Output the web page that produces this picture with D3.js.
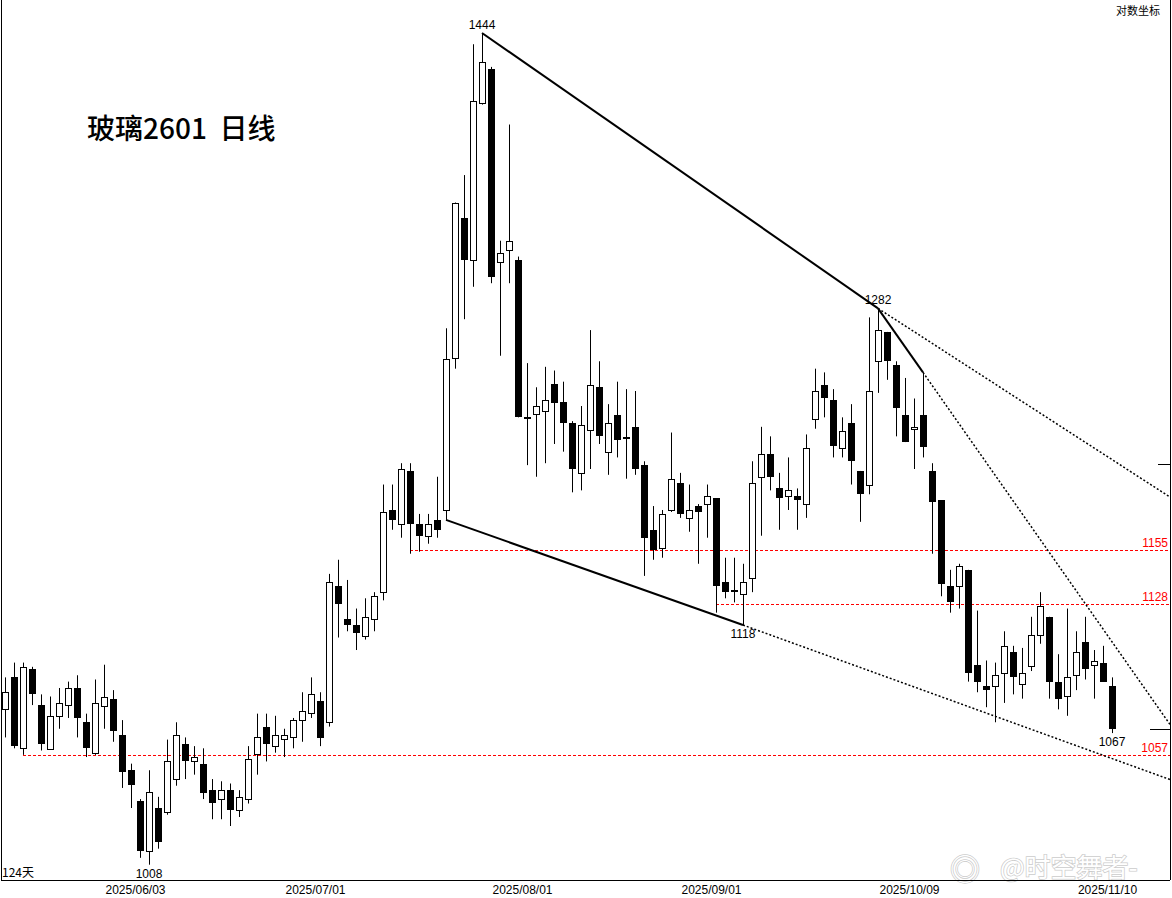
<!DOCTYPE html>
<html>
<head>
<meta charset="UTF-8">
<title>玻璃2601 日线</title>
<style>
  body { margin: 0; background: #fff; }
  svg { display: block; }
  text { font-family: "Liberation Sans", "DejaVu Sans", sans-serif; }
</style>
</head>
<body>
<script src="https://d3js.org/d3.v7.min.js"></script>
<script>
// 日K数据: [开, 高, 低, 收]
var candles = [
  [1078,1093,1065,1086],[1093,1100,1060,1061],[1060,1100,1057,1098],[1097,1098,1080,1085],
  [1080,1085,1059,1062],[1060,1084,1060,1075],[1075,1088,1069,1081],[1080,1091,1074,1088],
  [1088,1094,1065,1074],[1072,1076,1056,1060],[1058,1092,1057,1081],[1080,1099,1069,1084],
  [1083,1087,1063,1068],[1066,1073,1042,1049],[1050,1053,1033,1043],[1036,1037,1011,1014],
  [1014,1050,1008,1040],[1033,1038,1015,1018],[1031,1064,1030,1054],[1046,1072,1043,1066],
  [1062,1065,1046,1054],[1054,1061,1048,1056],[1053,1060,1037,1040],[1041,1046,1028,1035],
  [1037,1045,1028,1041],[1041,1044,1025,1032],[1032,1041,1029,1038],[1037,1061,1035,1055],
  [1057,1076,1048,1065],[1070,1076,1054,1062],[1061,1075,1058,1066],[1064,1069,1056,1066],
  [1065,1074,1060,1073],[1073,1086,1063,1077],[1076,1093,1074,1085],[1082,1086,1061,1065],
  [1072,1143,1070,1139],[1137,1150,1112,1128],[1121,1140,1115,1118],[1118,1126,1106,1114],
  [1113,1131,1111,1122],[1121,1134,1115,1132],[1134,1188,1130,1174],[1175,1188,1165,1170],
  [1168,1199,1161,1196],[1195,1199,1153,1168],[1168,1173,1154,1162],[1162,1173,1158,1168],
  [1170,1192,1161,1165],[1175,1271,1170,1254],[1255,1342,1249,1342],[1333,1358,1276,1309],
  [1309,1437,1294,1402],[1401,1444,1400,1426],[1422,1423,1296,1300],[1308,1320,1256,1313],
  [1315,1388,1296,1320],[1309,1311,1223,1223],[1223,1252,1198,1223],[1225,1239,1192,1229],
  [1226,1250,1199,1232],[1241,1248,1209,1231],[1231,1242,1205,1220],[1220,1221,1184,1196],
  [1194,1229,1185,1219],[1216,1270,1196,1240],[1239,1253,1209,1213],[1205,1230,1193,1220],
  [1224,1242,1202,1211],[1212.5,1238,1191,1212],[1218,1237,1193,1196],[1198,1200,1142,1161],
  [1165,1177,1150,1155],[1156,1175,1151,1173],[1175,1215,1174,1191],[1189,1194,1171,1173],
  [1171,1188,1164,1175],[1177,1178,1148,1174],[1178,1188,1161,1182],[1181,1181,1124,1137],
  [1139,1151,1131,1134],[1135,1151,1129,1135],[1133,1148,1118,1139],[1141,1200,1134,1189],
  [1192,1218,1162,1204],[1204,1213,1185,1192],[1186,1194,1165,1181],[1182,1202,1175,1185],
  [1182,1186,1165,1180],[1178,1214,1171,1207],[1222,1249,1217,1237],[1240,1247,1223,1233],
  [1232,1238,1202,1208],[1207,1223,1202,1216],[1220,1230,1188,1200],[1195,1195,1169,1183],
  [1188,1277,1183,1237],[1253,1282,1236,1270],[1269,1269,1243,1253],[1251,1253,1213,1228],
  [1224,1244,1210,1210],[1217,1233,1196,1218],[1224,1247,1202,1207],[1195,1199,1153,1179],
  [1180,1180,1132,1138],[1137,1145,1124,1129],[1137,1148,1126,1147],[1145,1145,1091,1095],
  [1099,1125,1086,1091],[1089,1101,1079,1087],[1089,1100,1072,1094],[1095,1115,1081,1108],
  [1105,1108,1085,1093],[1090,1107,1083,1095],[1098,1122,1096,1113],[1113,1134,1109,1127],
  [1122,1122,1083,1091],[1091,1104,1078,1083],[1084,1126,1075,1093],[1094,1115,1087,1105],
  [1110,1122,1092,1097],[1099,1106,1083,1101],[1100,1108,1091,1091],[1089,1093,1067,1069]
]

// 日期刻度
var tickIdx = [14, 34, 57, 78, 100, 122]
var tickLabels = ["2025/06/03", "2025/07/01", "2025/08/01", "2025/09/01", "2025/10/09", "2025/11/10"]

// 水平支撑线: 价位, 起点K线序号
var levelPrices = [1155, 1128, 1057]
var levelStart = [45, 79, 2]

// 高低点标注: 序号, 价格, 位置
var markIdx = [53, 97, 82, 16, 123]
var markPrice = [1444, 1282, 1118, 1008, 1067]
var markPos = ["top", "top", "bottom", "bottom", "bottom"]

// 趋势线 [序号, 价格]
var trendSolid = [
  [[53, 1444], [97, 1282]],
  [[97, 1282], [102, 1247]],
  [[49, 1170], [82, 1118]]
]
var trendDotted = [
  [[97, 1282], [129.44, 1181.6]],
  [[102, 1247], [129.44, 1071]],
  [[82, 1118], [129.44, 1045.8]]
]

var width = 1172
var height = 898
var plotRight = 1170
var plotBottom = 880

var svg = d3.select("body").append("svg")
  .attr("width", width)
  .attr("height", height)

var x = d3.scaleLinear().domain([0, 123]).range([5, 1112])
var y = d3.scaleLog().domain([1444, 1008]).range([33, 864.7])

// 边框
svg.append("line").attr("x1", 1.5).attr("x2", 1.5).attr("y1", 0).attr("y2", plotBottom).attr("stroke", "#000")
svg.append("line").attr("x1", plotRight + 0.5).attr("x2", plotRight + 0.5).attr("y1", 0).attr("y2", plotBottom).attr("stroke", "#000")
svg.append("line").attr("x1", 1158).attr("x2", plotRight).attr("y1", 464.5).attr("y2", 464.5).attr("stroke", "#000")

// 水平线
levelPrices.forEach(function(p, i) {
  var yy = Math.round(y(p)) + 0.5
  svg.append("line")
    .attr("x1", x(levelStart[i])).attr("x2", plotRight)
    .attr("y1", yy).attr("y2", yy)
    .attr("stroke", "#f00").attr("stroke-dasharray", "3,2")
  svg.append("text")
    .attr("x", 1168).attr("y", yy - 4)
    .attr("text-anchor", "end")
    .attr("fill", "#f00").attr("font-size", "12px")
    .text(p)
})

// 趋势线
var line = d3.line().x(function(d) { return x(d[0]) }).y(function(d) { return y(d[1]) })
trendSolid.forEach(function(t) {
  svg.append("path").attr("d", line(t)).attr("stroke", "#000").attr("stroke-width", 2).attr("fill", "none")
})
trendDotted.forEach(function(t) {
  svg.append("path").attr("d", line(t)).attr("stroke", "#000").attr("stroke-width", 1.5)
    .attr("stroke-dasharray", "2,2").attr("fill", "none")
})

// K线
var g = svg.append("g")
candles.forEach(function(d, i) {
  var cx = Math.round(x(i))
  var up = d[3] >= d[0]
  g.append("line")
    .attr("x1", cx + 0.5).attr("x2", cx + 0.5)
    .attr("y1", y(d[1])).attr("y2", y(d[2]))
    .attr("stroke", "#000")
  var top = y(Math.max(d[0], d[3]))
  var bot = y(Math.min(d[0], d[3]))
  if (up) {
    g.append("rect")
      .attr("x", cx - 2.5).attr("y", Math.round(top) + 0.5)
      .attr("width", 6).attr("height", Math.max(1, Math.round(bot - top)))
      .attr("fill", "#fff").attr("stroke", "#000")
  } else {
    g.append("rect")
      .attr("x", cx - 3).attr("y", Math.round(top))
      .attr("width", 7).attr("height", Math.max(2, Math.round(bot - top)))
      .attr("fill", "#000")
  }
})

// 最新价标记
var lastC = candles[candles.length - 1][3]
svg.append("line").attr("x1", 1150).attr("x2", plotRight)
  .attr("y1", Math.round(y(lastC)) + 0.5).attr("y2", Math.round(y(lastC)) + 0.5).attr("stroke", "#000")

// 高低点标注
markIdx.forEach(function(idx, i) {
  var yy = y(markPrice[i])
  svg.append("text")
    .attr("x", x(idx))
    .attr("y", markPos[i] === "top" ? yy - 4 : yy + 13)
    .attr("text-anchor", "middle")
    .attr("font-size", "12px").attr("fill", "#000")
    .text(markPrice[i])
})

// 水印
svg.append("text").attr("x", 1000).attr("y", 877)
  .style("font-family", "'Noto Sans CJK SC', sans-serif")
  .attr("font-size", "26px").attr("fill", "#fff")
  .attr("stroke", "#ccc").attr("stroke-width", 1.5).attr("paint-order", "stroke")
  .text("@时空舞者-")
svg.append("text").attr("x", 950).attr("y", 880)
  .style("font-family", "'Noto Sans CJK SC', sans-serif")
  .attr("font-size", "30px").attr("fill", "#fff")
  .attr("stroke", "#ccc").attr("stroke-width", 1.5).attr("paint-order", "stroke")
  .text("◎")

// 底边
svg.append("line").attr("x1", 1).attr("x2", plotRight).attr("y1", plotBottom + 0.5).attr("y2", plotBottom + 0.5).attr("stroke", "#000")

// 日期轴
var axis = d3.axisBottom(x)
  .tickValues(tickIdx)
  .tickFormat(function(d, i) { return tickLabels[i] })
  .tickSize(0)
  .tickPadding(5)
var ax = svg.append("g").attr("transform", "translate(4," + plotBottom + ")").call(axis)
ax.select(".domain").remove()
ax.selectAll("text").attr("font-size", "12px").attr("fill", "#000")
  .style("font-family", "'Liberation Sans', sans-serif")

// 文字
svg.append("text").attr("x", 87).attr("y", 139)
  .style("font-family", "'Noto Sans CJK SC', sans-serif")
  .attr("font-size", "28px").attr("font-weight", 500).attr("fill", "#000")
  .attr("xml:space", "preserve")
  .text("玻璃2601  日线")
svg.append("text").attr("x", 1160).attr("y", 15).attr("text-anchor", "end")
  .style("font-family", "'Noto Sans CJK SC', sans-serif")
  .attr("font-size", "11px").text("对数坐标")
svg.append("text").attr("x", 2).attr("y", 877)
  .style("font-family", "'Noto Sans CJK SC', sans-serif")
  .attr("font-size", "12px").text("124天")
</script>
</body>
</html>
